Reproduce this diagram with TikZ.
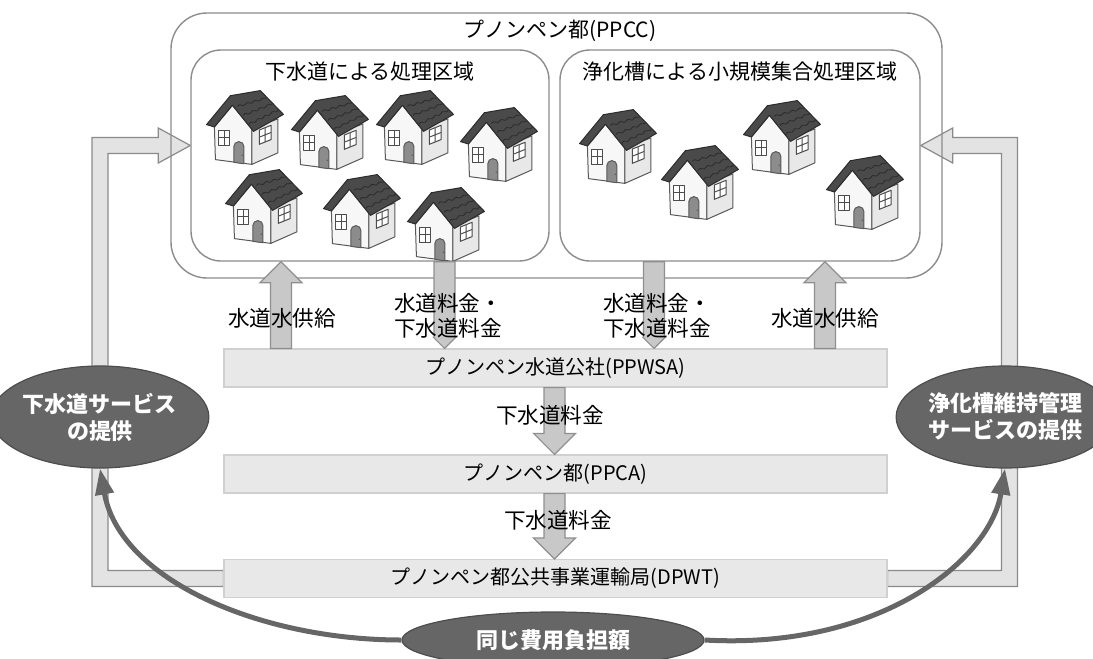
\documentclass[tikz,border=0pt]{standalone}
\usepackage{fontspec}
\setmainfont{Noto Sans CJK JP}
\usetikzlibrary{calc,shapes.geometric,arrows.meta,decorations.pathmorphing,backgrounds}

\definecolor{framegray}{HTML}{8C8C8C}
\definecolor{barfill}{HTML}{E8E8E8}
\definecolor{baredge}{HTML}{D0D0D0}
\definecolor{blkfill}{HTML}{C8C8C8}
\definecolor{blkedge}{HTML}{8F8F8F}
\definecolor{bandfill}{HTML}{E3E3E3}
\definecolor{bandedge}{HTML}{8A8A8A}
\definecolor{bubblefill}{HTML}{666666}
\definecolor{bubbleedge}{HTML}{4D4D4D}
\definecolor{roofgray}{HTML}{4A4A4A}
\definecolor{roofedge}{HTML}{2B2B2B}

% vertical block arrow: [head half width]{from}{to}
\newcommand\blockarrow[3][10.5pt]{%
  \path[blk] let \p1=#2, \p2=#3, \n1={sign(\y2-\y1)} in
    (\x1-5.25pt,\y1) -- (\x1-5.25pt,\y2-\n1*#1) -- (\x1-#1,\y2-\n1*#1) -- (\x1,\y2)
    -- (\x1+#1,\y2-\n1*#1) -- (\x1+5.25pt,\y2-\n1*#1) -- (\x1+5.25pt,\y1) -- cycle;}
% L-shaped band arrow: {start on bar}{bend}{tip}
\newcommand\bandarrow[3]{%
  \path[band] let \p1=#1, \p2=#2, \p3=#3, \n1={sign(\x3-\x2)} in
    (\x1,\y1-4pt) -- (\x2-\n1*4pt,\y1-4pt) -- (\x2-\n1*4pt,\y3+4pt) -- (\x3-\n1*16pt,\y3+4pt)
    -- (\x3-\n1*16pt,\y3+8.75pt) -- (\x3,\y3) -- (\x3-\n1*16pt,\y3-8.75pt) -- (\x3-\n1*16pt,\y3-4pt)
    -- (\x2+\n1*4pt,\y3-4pt) -- (\x2+\n1*4pt,\y1+4pt) -- (\x1,\y1+4pt) -- cycle;}

\tikzset{
  area/.style={draw=framegray, line width=0.7pt, fill=white, rounded corners=15pt, inner sep=0pt},
  bar/.style={draw=baredge, fill=barfill, line width=0.6pt, minimum width=331.5pt, minimum height=19pt,
    inner sep=0pt, font=\fontsize{10}{12}\selectfont},
  blk/.style={draw=blkedge, fill=blkfill, line width=0.6pt},
  band/.style={draw=bandedge, fill=bandfill, line width=0.6pt},
  bubble/.style={ellipse, draw=bubbleedge, fill=bubblefill, line width=0.6pt, text=white, inner sep=0pt,
    align=center, font=\bfseries\fontsize{11}{13.5}\selectfont},
  lbl/.style={font=\fontsize{10.8}{12.5}\selectfont, align=center, inner sep=0pt},
  ttl/.style={font=\fontsize{10.5}{12}\selectfont, inner sep=0pt},
  flow/.style={draw=bubblefill, line width=2.5pt, -{Triangle[length=13pt,width=9pt]}},
  hwall/.style={draw=black!65, fill=black!3, line width=0.5pt},
  hside/.style={draw=black!65, fill=black!9, line width=0.5pt},
  hroof/.style={draw=roofedge, fill=roofgray, line width=0.5pt},
  hwin/.style={draw=black!70, fill=white, line width=0.5pt},
  hdoor/.style={draw=black!65, fill=black!45, line width=0.5pt},
  shingle/.style={draw=roofedge, line width=0.4pt, decorate,
    decoration={snake, amplitude=0.5pt, segment length=4pt}},
  pics/house/.style={code={
    \begin{scope}[scale=0.34, line join=round]
      \filldraw[hwall] (-90,-3) -- (-37,-67) -- (20,3) -- (20,107) -- (-87,93) -- cycle;
      \filldraw[hside] (20,3) -- (97,-27) -- (97,73) -- (20,107) -- cycle;
      \filldraw[hroof] (-113,-10) -- (-43,-95) -- (45,-110) -- (113,-40) -- (25,10) -- (-37,-67) -- (-90,-3) -- cycle;
      \foreach \t in {0.3,0.55,0.8}
        \draw[shingle] ($(-43,-95)!\t!(25,10)$) -- ($(45,-110)!\t!(113,-40)$);
      \filldraw[hwin] (-78,8) rectangle (-45,50);
      \draw[hwin] (-61.5,8) -- (-61.5,50) (-78,29) -- (-45,29);
      \filldraw[hdoor] (-33,101) -- (-33,55) arc[start angle=180, end angle=360, radius=15] -- (-3,105) -- cycle;
      \fill[black!70] (-8,80) circle (2);
      \filldraw[hwin] (42,6) -- (77,-8) -- (77,34) -- (42,48) -- cycle;
      \draw[hwin] (59.5,-1) -- (59.5,41) (42,27) -- (77,13);
    \end{scope}}}
}

\begin{document}
\begin{tikzpicture}[x=0.5pt, y=-0.5pt]
  \useasboundingbox (0,0) rectangle (1093,659);

  % city and its two service areas
  \node[area, fill=none, rounded corners=18pt, minimum width=385.5pt, minimum height=132.5pt] (ppcc) at (556.5,145.5) {};
  \node[ttl] (ppccttl) at (560,31) {プノンペン都(PPCC)};
  \node[area, minimum width=179pt, minimum height=105.5pt] (sewer) at (370,155.5) {};
  \node[area, minimum width=180pt, minimum height=105.5pt] (septic) at (740,155.5) {};
  \node[ttl] (sewerttl) at (370,72) {下水道による処理区域};
  \node[ttl] (septicttl) at (740,72) {浄化槽による小規模集合処理区域};

  \foreach \hx/\hy in {245/128, 330/133, 415/128, 499/145, 264/207, 362/212, 446/225,
                       618/147, 700/183, 782/138, 865/193}
    \pic at (\hx,\hy) {house};

  \node[bar] (ppwsa) at (555.5,368) {プノンペン水道公社(PPWSA)};
  \node[bar] (ppca) at (555.5,474) {プノンペン都(PPCA)};
  \node[bar] (dpwt) at (555.5,578.5) {プノンペン都公共事業運輸局(DPWT)};

  % service bands
  \coordinate (bendL) at (100,577);
  \coordinate (bendR) at (1009.5,577);
  \coordinate (entryL) at (sewer.west |- 0,145.5);
  \coordinate (entryR) at (septic.east |- 0,145.5);
  \begin{scope}[on background layer]
    \bandarrow{(dpwt.west)}{(bendL)}{(entryL)}
    \bandarrow{(dpwt.east)}{(bendR)}{(entryR)}
  \end{scope}

  % money and water flows
  \blockarrow{(ppwsa.north -| 281,0)}{(sewer.south -| 281,0)}
  \blockarrow[5.5pt]{(sewer.south -| 444.5,0)}{(ppwsa.north -| 444.5,0)}
  \blockarrow[5.5pt]{(septic.south -| 654,0)}{(ppwsa.north -| 654,0)}
  \blockarrow{(ppwsa.north -| 825,0)}{(septic.south -| 825,0)}
  \blockarrow{(ppwsa.south -| 554.5,0)}{(ppca.north -| 554.5,0)}
  \blockarrow{(ppca.south -| 554.5,0)}{(dpwt.north -| 554.5,0)}

  \node[lbl] (supplyL) at (282,318) {水道水供給};
  \node[lbl] (feeL) at (448,315.5) {水道料金・\\下水道料金};
  \node[lbl] (feeR) at (657,315.5) {水道料金・\\下水道料金};
  \node[lbl] (supplyR) at (825,318) {水道水供給};
  \node[lbl] (sewfeeA) at (550,415) {下水道料金};
  \node[lbl] (sewfeeB) at (558,520) {下水道料金};

  % equal burden
  \node[bubble, minimum width=92pt, minimum height=51pt] (svcL) at (100,417) {下水道サービス\\の提供};
  \node[bubble, minimum width=88pt, minimum height=51pt] (svcR) at (1005,417) {浄化槽維持管理\\サービスの提供};
  \node[bubble, minimum width=151pt, minimum height=28pt] (cost) at (553,640) {同じ費用負担額};
  \begin{scope}[on background layer]
    \draw[flow] (cost.west) .. controls (260,640) and (120,580) .. (svcL.south);
    \draw[flow] (cost.east) .. controls (880,650) and (990,560) .. (svcR.south);
  \end{scope}
\end{tikzpicture}
\end{document}
